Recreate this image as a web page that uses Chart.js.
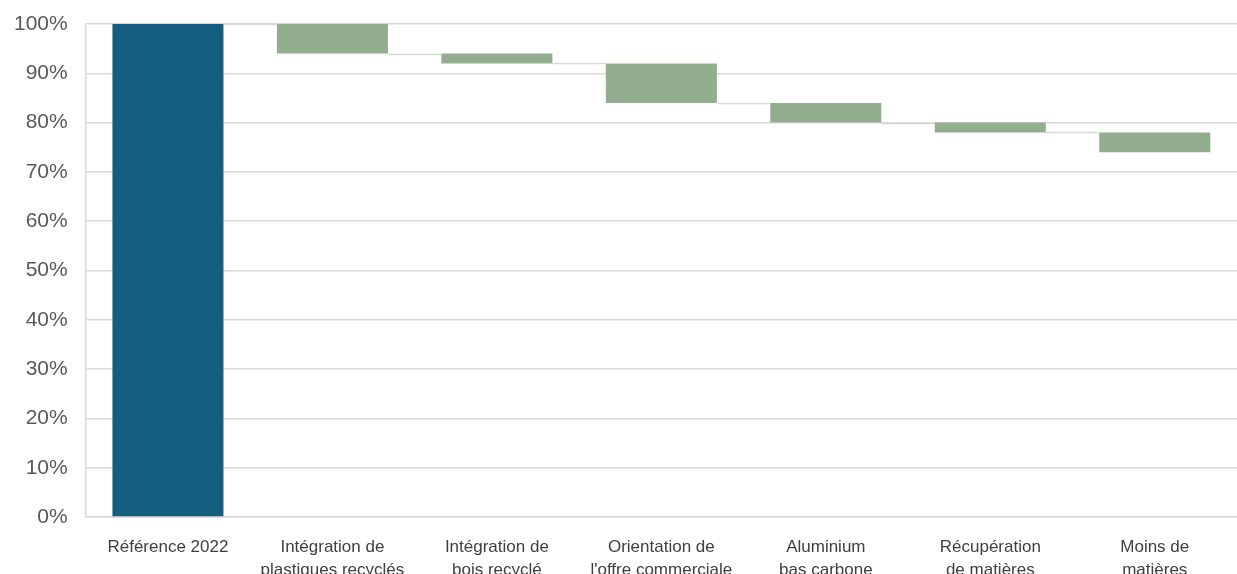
<!DOCTYPE html>
<html>
<head>
<meta charset="utf-8">
<script src="https://cdn.jsdelivr.net/npm/chart.js@4"></script>
<style>
  html, body { margin: 0; padding: 0; background: #fff; overflow: hidden; }
  #wrap { width: 1237px; height: 593px; }
</style>
</head>
<body>
<div id="wrap"><canvas id="myChart"></canvas></div>
<script>
let categories = [
    'Référence 2022',
    ['Intégration de', 'plastiques recyclés'],
    ['Intégration de', 'bois recyclé'],
    ['Orientation de', "l'offre commerciale"],
    ['Aluminium', 'bas carbone'],
    ['Récupération', 'de matières'],
    ['Moins de', 'matières']
];
let startValues = [0, 100, 94, 92, 84, 80, 78];
let endValues = [100, 94, 92, 84, 80, 78, 74];
let yTicks = [0, 10, 20, 30, 40, 50, 60, 70, 80, 90, 100];

let barColors = categories.map((c, i) => i === 0 ? '#165e80' : '#92ae8e');

// horizontal links between consecutive steps of the waterfall
let connectors = {
    id: 'connectors',
    afterDatasetsDraw(chart) {
        let meta = chart.getDatasetMeta(0);
        let y = chart.scales.y;
        let c = chart.ctx;
        c.save();
        c.strokeStyle = '#d9d9d9';
        c.lineWidth = 1.5;
        for (let i = 0; i < endValues.length - 1; i++) {
            let a = meta.data[i], b = meta.data[i + 1];
            let py = Math.round(y.getPixelForValue(endValues[i])) + 0.5;
            c.beginPath();
            c.moveTo(a.x + a.width / 2, py);
            c.lineTo(b.x - b.width / 2, py);
            c.stroke();
        }
        c.restore();
    }
};

let ctx = document.getElementById('myChart').getContext('2d');

let chart = new Chart(ctx, {
    type: 'bar',
    data: {
        labels: categories,
        datasets: [{
            data: startValues.map((s, i) => [s, endValues[i]]),
            backgroundColor: barColors,
            borderSkipped: false,
            categoryPercentage: 1,
            barPercentage: 0.675
        }]
    },
    plugins: [connectors],
    options: {
        responsive: true,
        maintainAspectRatio: false,
        animation: false,
        layout: { padding: { top: 24, left: -4, right: 0, bottom: 0 } },
        plugins: {
            legend: { display: false },
            tooltip: { enabled: false }
        },
        scales: {
            x: {
                grid: { display: false },
                border: { color: '#d9d9d9', width: 1.5 },
                ticks: {
                    color: '#404040',
                    padding: 11,
                    maxRotation: 0,
                    autoSkip: false,
                    font: { family: 'Liberation Sans, Arial, sans-serif', size: 17, lineHeight: 1.35 }
                }
            },
            y: {
                min: 0,
                max: 100,
                afterBuildTicks: axis => { axis.ticks = yTicks.map(v => ({ value: v })); },
                afterFit: axis => { axis.paddingTop = 0; },
                grid: { color: '#d9d9d9', lineWidth: 1.5, drawTicks: false },
                border: { color: '#d9d9d9', width: 1.5 },
                ticks: {
                    color: '#595959',
                    padding: 18,
                    font: { family: 'Liberation Sans, Arial, sans-serif', size: 21, lineHeight: 1 },
                    callback: v => v + '%'
                }
            }
        }
    }
});
</script>
</body>
</html>
